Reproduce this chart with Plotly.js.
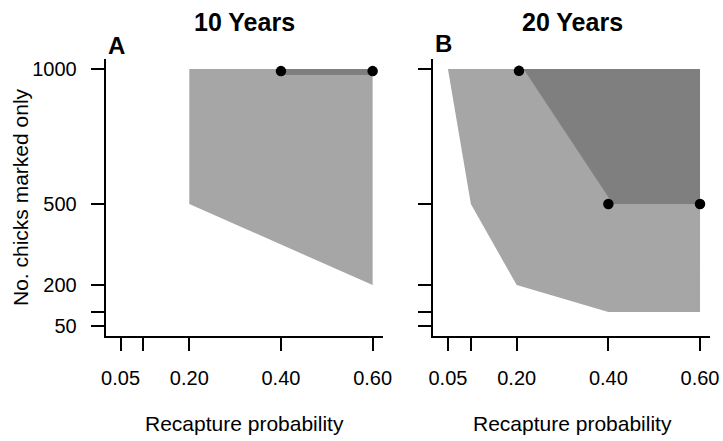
<!DOCTYPE html>
<html>
<head>
<meta charset="utf-8">
<script src="https://cdn.plot.ly/plotly-3.0.1.min.js"></script>
<style>html,body{margin:0;padding:0;background:#fff;}#chart{width:723px;height:441px;}</style>
</head>
<body>
<div id="chart"></div>
<script>
// ---- data ----
const panelTitles = ["10 Years", "20 Years"];
const panelLetters = ["A", "B"];
const xTickVals = [0.05, 0.10, 0.20, 0.40, 0.60];
const xTickText = ["0.05", "", "0.20", "0.40", "0.60"];
const yTickVals = [50, 100, 200, 500, 1000];
const yTickText = ["50", "", "200", "500", "1000"];
const xTitle = "Recapture probability";
const yTitle = "No. chicks marked only";

// Panel A (10 years)
const aLightX = [0.20, 0.60, 0.60, 0.20];
const aLightY = [1000, 1000, 200, 500];
const aDarkX = [0.40, 0.60, 0.60, 0.40];
const aDarkY = [1000, 1000, 978, 978];
const aPtsX = [0.40, 0.60];
const aPtsY = [992, 992];

// Panel B (20 years)
const bLightX = [0.05, 0.60, 0.60, 0.40, 0.20, 0.10];
const bLightY = [1000, 1000, 100, 100, 200, 500];
const bDarkX = [0.215, 0.60, 0.60, 0.41];
const bDarkY = [1000, 1000, 500, 500];
const bPtsX = [0.205, 0.40, 0.60];
const bPtsY = [993, 500, 500];

// ---- styles ----
const W = 723, H = 441;
const LIGHT = "#a6a6a6", DARK = "#7f7f7f";
const FONT = "Liberation Sans, Arial, sans-serif";
const px = v => v / W;
const py = v => 1 - v / H;

function poly(x, y, color, xa, ya) {
  return {x: x, y: y, xaxis: xa, yaxis: ya, type: "scatter", mode: "lines",
          fill: "toself", fillcolor: color, line: {width: 0, color: color},
          hoverinfo: "skip", showlegend: false};
}
function pts(x, y, xa, ya) {
  return {x: x, y: y, xaxis: xa, yaxis: ya, type: "scatter", mode: "markers",
          marker: {color: "#000", size: 10.5}, hoverinfo: "skip", showlegend: false, cliponaxis: false};
}

const traces = [
  poly(aLightX, aLightY, LIGHT, "x", "y"),
  poly(aDarkX, aDarkY, DARK, "x", "y"),
  pts(aPtsX, aPtsY, "x", "y"),
  poly(bLightX, bLightY, LIGHT, "x2", "y2"),
  poly(bDarkX, bDarkY, DARK, "x2", "y2"),
  pts(bPtsX, bPtsY, "x2", "y2")
];

const xRange = [0.0176, 0.6224];
const yRange = [12, 1038];
const yDom = [py(335.8), py(58.7)];

function xaxis(dom, anchor) {
  return {domain: dom, anchor: anchor, range: xRange, automargin: false,
          showline: true, linecolor: "#000", linewidth: 2, mirror: false,
          showgrid: false, zeroline: false, ticks: "outside", ticklen: 13, tickwidth: 2, tickcolor: "#000",
          tickmode: "array", tickvals: xTickVals, ticktext: xTickText,
          tickfont: {family: FONT, size: 20, color: "#000"}, ticklabelstandoff: 10};
}
function yaxis(anchor, showLabels) {
  return {domain: yDom, anchor: anchor, range: yRange, automargin: false,
          showline: true, linecolor: "#000", linewidth: 2, mirror: false,
          showgrid: false, zeroline: false, ticks: "outside", ticklen: 13, tickwidth: 2, tickcolor: "#000",
          tickmode: "array", tickvals: yTickVals, ticktext: yTickText, showticklabels: showLabels,
          tickfont: {family: FONT, size: 20, color: "#000"}, ticklabelstandoff: 10};
}

function ann(text, x, y, size, bold, angle) {
  return {text: bold ? "<b>" + text + "</b>" : text, xref: "paper", yref: "paper",
          x: px(x), y: py(y), xanchor: "center", yanchor: "middle", showarrow: false,
          textangle: angle || 0, font: {family: FONT, size: size, color: "#000"}};
}

const layout = {
  width: W, height: H, autosize: false,
  margin: {l: 0, r: 0, t: 0, b: 0, pad: 0},
  paper_bgcolor: "#fff", plot_bgcolor: "#fff",
  showlegend: false,
  xaxis: xaxis([px(105.7), px(382.9)], "y"),
  yaxis: yaxis("x", true),
  xaxis2: xaxis([px(433.1), px(710.3)], "y2"),
  yaxis2: yaxis("x2", false),
  annotations: [
    ann(panelTitles[0], 244, 22, 25, true),
    ann(panelTitles[1], 572, 22, 25, true),
    ann(panelLetters[0], 116.5, 45, 24, true),
    ann(panelLetters[1], 443.5, 44, 24, true),
    ann(yTitle, 20, 197, 21, false, -90),
    ann(xTitle, 244, 423, 21, false),
    ann(xTitle, 572, 423, 21, false)
  ]
};

Plotly.newPlot("chart", traces, layout, {displayModeBar: false, staticPlot: true});
</script>
</body>
</html>
